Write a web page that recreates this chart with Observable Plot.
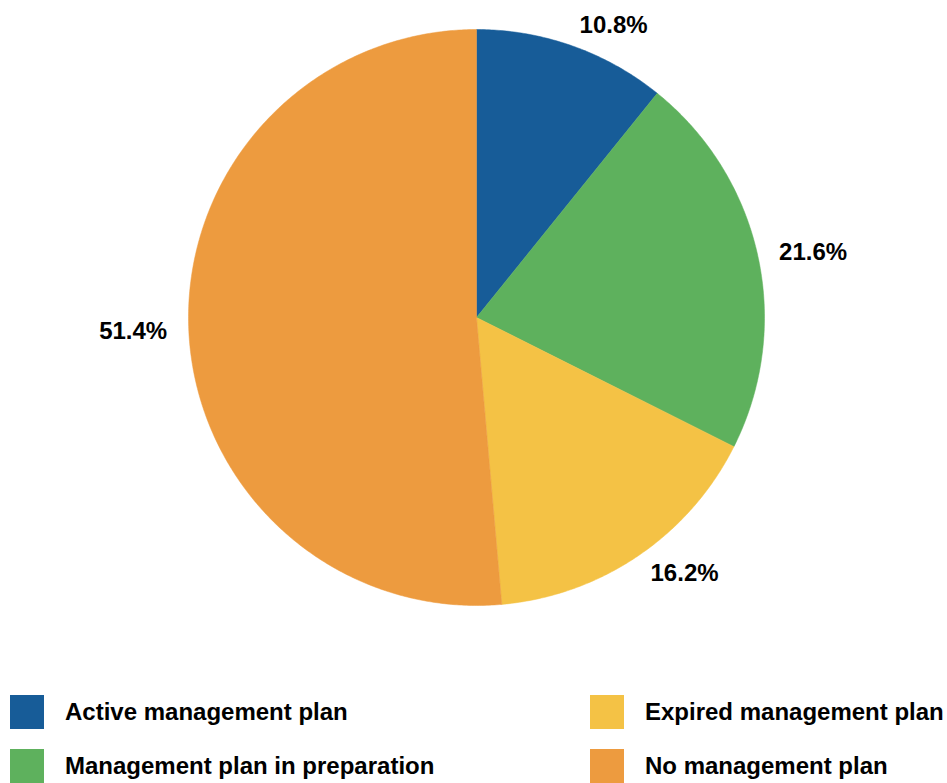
<!DOCTYPE html>
<html>
<head>
<meta charset="utf-8">
<script src="https://cdn.jsdelivr.net/npm/d3@7"></script>
<script src="https://cdn.jsdelivr.net/npm/@observablehq/plot@0.6"></script>
<style>
  html, body { margin: 0; padding: 0; background: #fff; }
  body { width: 947px; height: 783px; position: relative; overflow: hidden; font-family: "Liberation Sans", Arial, sans-serif; }
  #chart { position: absolute; left: 0; top: 0; }
  #legend { position: absolute; left: 0; top: 680px; width: 947px; }
  .item { position: absolute; display: flex; align-items: center; font-weight: bold; font-size: 24px; color: #000; white-space: nowrap; }
  .sw { width: 34px; height: 34px; margin-right: 21px; }
</style>
</head>
<body>
<div id="chart"></div>
<div id="legend"></div>
<script>
const categories = ["Active management plan", "Management plan in preparation", "Expired management plan", "No management plan"];
const values = [10.8, 21.6, 16.2, 51.4];
const labels = ["10.8%", "21.6%", "16.2%", "51.4%"];
const colors = ["#175c98", "#5eb15d", "#f4c245", "#ed9b3f"];

const W = 947, H = 640, CX = 476, CY = 317, R = 288;
const total = d3.sum(values);

// build wedge outlines in unit (radius = 1) coordinates
const wedgePts = [];
const labelPts = [];
let acc = 0;
categories.forEach((c, i) => {
  const a0 = acc / total * 2 * Math.PI;
  acc += values[i];
  const a1 = acc / total * 2 * Math.PI;
  wedgePts.push({cat: c, x: 0, y: 0});
  const n = Math.max(2, Math.ceil((a1 - a0) / (Math.PI / 360)));
  for (let k = 0; k <= n; k++) {
    const a = a0 + (a1 - a0) * k / n;
    wedgePts.push({cat: c, x: Math.sin(a), y: Math.cos(a)});
  }
  wedgePts.push({cat: c, x: 0, y: 0});
  const am = (a0 + a1) / 2;
  labelPts.push({cat: c, text: labels[i], x: 1.075 * Math.sin(am), y: 1.075 * Math.cos(am), right: Math.sin(am) >= 0});
});

const chart = Plot.plot({
  width: W,
  height: H,
  margin: 0,
  x: {domain: [-CX / R, (W - CX) / R], range: [0, W], axis: null},
  y: {domain: [-(H - CY) / R, CY / R], range: [H, 0], axis: null},
  color: {domain: categories, range: colors},
  style: {fontFamily: "'Liberation Sans', Arial, sans-serif", background: "#fff"},
  marks: [
    Plot.line(wedgePts, {x: "x", y: "y", z: "cat", fill: "cat", stroke: "cat", strokeWidth: 0.5, curve: "linear-closed"}),
    Plot.text(labelPts.filter(d => d.right), {x: "x", y: "y", text: "text", fontSize: 24, fontWeight: "bold", fill: "#000", textAnchor: "start"}),
    Plot.text(labelPts.filter(d => !d.right), {x: "x", y: "y", text: "text", fontSize: 24, fontWeight: "bold", fill: "#000", textAnchor: "end"})
  ]
});
document.getElementById("chart").appendChild(chart);

const legend = document.getElementById("legend");
categories.forEach((cat, j) => {
  const col = Math.floor(j / 2), row = j % 2;
  const el = document.createElement("div");
  el.className = "item";
  el.style.left = (col === 0 ? 10 : 590) + "px";
  el.style.top = (15 + row * 54) + "px";
  el.innerHTML = `<div class="sw" style="background:${colors[j]}"></div><span>${cat}</span>`;
  legend.appendChild(el);
});
</script>
</body>
</html>
